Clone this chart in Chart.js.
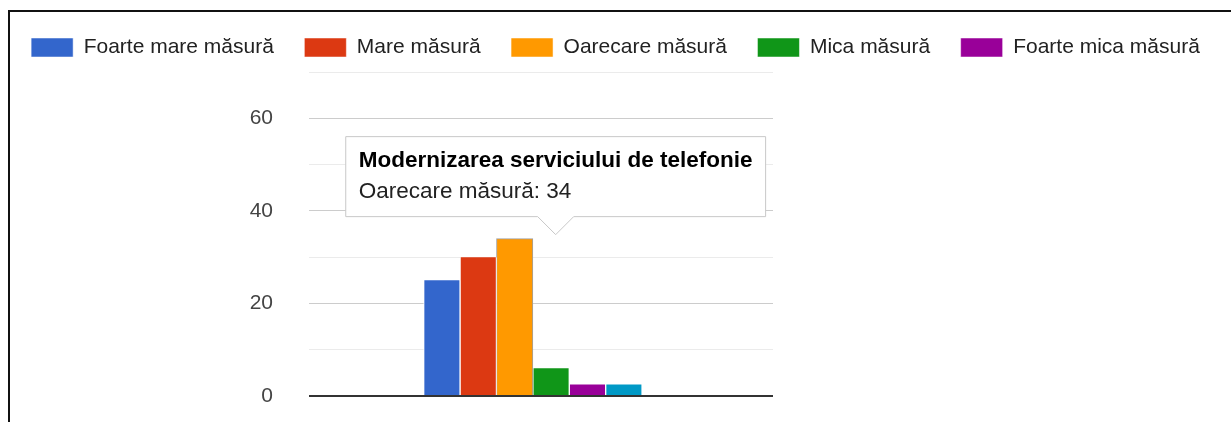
<!DOCTYPE html>
<html>
<head>
<meta charset="utf-8">
<script src="https://cdn.jsdelivr.net/npm/chart.js@4/dist/chart.umd.min.js"></script>
<style>
  html, body { margin: 0; padding: 0; background: #fff; }
  #wrap { position: relative; width: 1231px; height: 422px; overflow: hidden; }
  #frame { position: absolute; left: 8px; top: 10px; width: 1400px; height: 600px;
           border-top: 2px solid #111; border-left: 2px solid #111; }
  #c { position: absolute; left: 0; top: 0; }
</style>
</head>
<body>
<div id="wrap">
  <div id="frame"></div>
  <canvas id="c" width="1231" height="422"></canvas>
</div>
<script>
// ---- data ----
const categories = ['Modernizarea serviciului de telefonie'];
const seriesNames = ['Foarte mare măsură', 'Mare măsură', 'Oarecare măsură', 'Mica măsură', 'Foarte mica măsură', 'Altele'];
const foarteMare = [25];
const mare = [30];
const oarecare = [34];
const mica = [6];
const foarteMica = [2.5];
const altele = [2.5];
const yTickLabels = [0, 20, 40, 60];

const seriesValues = [foarteMare, mare, oarecare, mica, foarteMica, altele];
const colors = ['#3366CC', '#DC3912', '#FF9900', '#109618', '#990099', '#0099C6'];

const FONT = "'Liberation Sans', Arial, sans-serif";

const datasets = seriesNames.map((name, k) => ({
  label: name,
  data: categories.map((c, i) => ({ x: i, y: seriesValues[k][i] })),
  backgroundColor: colors[k],
  hoverBackgroundColor: colors[k],
  borderColor: '#ffffff',
  borderWidth: { left: 1, right: 1, top: 0, bottom: 0 },
  borderSkipped: 'start',
  hoverBorderColor: k === 2 ? '#a0a0a0' : '#ffffff',
  hoverBorderWidth: k === 2 ? { left: 1, right: 1, top: 1, bottom: 0 } : { left: 1, right: 1, top: 0, bottom: 0 },
  barThickness: 36.4
}));

Chart.Tooltip.positioners.googleStyle = function (elements) {
  if (!elements.length) return false;
  const el = elements[0].element;
  return { x: el.x + 41, y: el.y };
};

const chart = new Chart(document.getElementById('c'), {
  type: 'bar',
  data: { labels: categories, datasets },
  options: {
    responsive: false,
    animation: false,
    events: [],
    layout: { padding: { left: 0, right: 0, top: 6.5, bottom: 26 } },
    plugins: {
      legend: {
        position: 'top',
        align: 'center',
        labels: {
          boxWidth: 42,
          boxHeight: 19,
          padding: 30.5,
          color: '#222',
          font: { family: FONT, size: 21 },
          filter: (item) => item.datasetIndex < 5
        }
      },
      tooltip: {
        enabled: true,
        position: 'googleStyle',
        xAlign: 'center',
        yAlign: 'bottom',
        backgroundColor: '#fff',
        borderColor: '#c8c8c8',
        borderWidth: 1,
        cornerRadius: 0,
        caretSize: 18,
        caretPadding: 4,
        displayColors: false,
        titleColor: '#000',
        bodyColor: '#222',
        titleFont: { family: FONT, size: 22.5, weight: 'bold' },
        bodyFont: { family: FONT, size: 22.5 },
        titleMarginBottom: 4,
        padding: { top: 11, bottom: 11, left: 13, right: 13 },
        callbacks: {
          title: (items) => categories[items[0].dataIndex]
        }
      }
    },
    scales: {
      x: {
        type: 'linear',
        position: 'top',
        display: true,
        min: -0.479,
        max: 0.521,
        afterFit: (s) => { s.height = 4; },
        border: { display: false },
        grid: { display: false, drawTicks: false },
        ticks: { display: false }
      },
      y: {
        position: 'left',
        min: 0,
        max: 70,
        afterFit: (s) => { s.width = 309; },
        border: { display: false },
        grid: {
          drawTicks: true,
          tickLength: 36,
          tickColor: 'rgba(0,0,0,0)',
          color: (ctx) => {
            const v = ctx.tick.value;
            if (v === 0) return '#333';
            return v % 20 === 0 ? '#cccccc' : '#ebebeb';
          },
          lineWidth: (ctx) => ctx.tick.value === 0 ? 2 : 1
        },
        ticks: {
          stepSize: 10,
          padding: 0,
          color: '#444',
          font: { family: FONT, size: 21 },
          callback: (v) => yTickLabels.includes(v) ? String(v) : ''
        }
      },
      yRight: {
        position: 'right',
        display: true,
        afterFit: (s) => { s.width = 458; },
        border: { display: false },
        grid: { display: false, drawTicks: false },
        ticks: { display: false }
      }
    }
  }
});

const active = [{ datasetIndex: 2, index: 0 }];
chart.setActiveElements(active);
chart.tooltip.setActiveElements(active, { x: 0, y: 0 });
chart.update();
</script>
</body>
</html>
